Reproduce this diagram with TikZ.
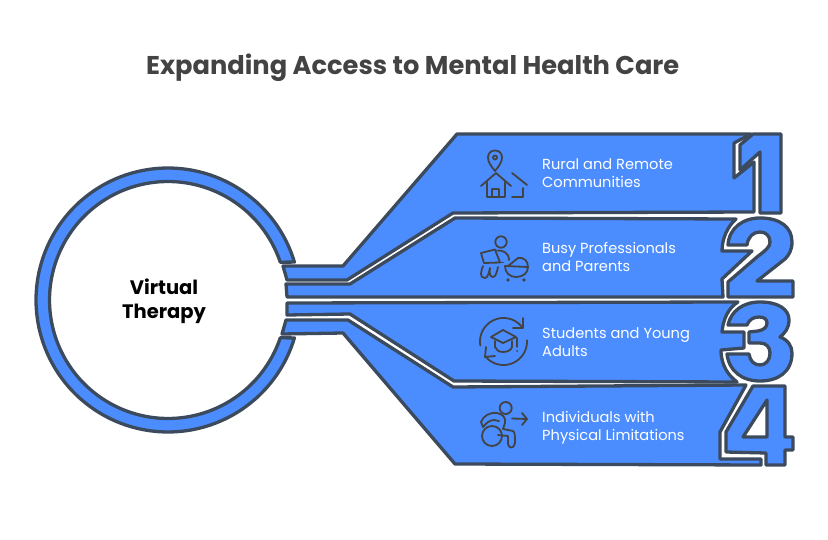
\documentclass[tikz,border=0pt]{standalone}
\usepackage{fontspec}
\setmainfont{Poppins}
\definecolor{bandblue}{HTML}{4B8DFF}
\definecolor{edgeslate}{HTML}{3C4A5E}
\definecolor{inkgrey}{HTML}{434343}
\tikzset{
  band/.style={draw=edgeslate,fill=bandblue,line width=3.3pt,line join=round},
  glyph/.style={band,even odd rule},
  icon/.style={draw=inkgrey,line width=1.8pt,line cap=round,line join=round,fill=none},
  icondot/.style={fill=inkgrey,draw=none},
  label/.style={anchor=base west,text=white,inner sep=0pt,font=\fontsize{14.6}{16}\selectfont},
  hub/.style={anchor=base,text=black,inner sep=0pt,font=\fontsize{19.5}{22}\selectfont\bfseries},
  heading/.style={anchor=base west,text=inkgrey,inner sep=0pt,font=\fontsize{25.7}{28}\selectfont\bfseries}
}
\begin{document}
\begin{tikzpicture}[x=1pt,y=-1pt]
\useasboundingbox (0,0) rectangle (828,540);
\fill[white] (0,0) rectangle (828,540);
\node[heading] (title) at (146,75) {Expanding Access to Mental Health Care};
% ring
\draw[band] plot[smooth,domain=-16.7:-343.3,samples=90] ({168+132*cos(\x)},{300+132*sin(\x)})
  -- plot[smooth,domain=-341.4:-18.6,samples=90] ({168+118.5*cos(\x)},{300+118.5*sin(\x)}) -- cycle;
\node[hub] (hubA) at (164,295) {Virtual};
\node[hub] (hubB) at (164,319) {Therapy};
% band 1 and its numeral
\draw[band] (283,266) -- (343,266) -- (457,134) -- (751,134) -- (734,143) -- (734,178) -- (754,162) -- (754,212) -- (453,213) -- (347,280) -- (287,280) -- cycle;
\draw[glyph] (740,145) -- (740,170) -- (760,152) -- (760,213) -- (781,213) -- (781,134) -- (753,134) -- cycle;
% band 2 and its numeral
\draw[band] (286,284) -- (350,284) -- (455,218) -- (736,219) .. controls (728,226) and (722,238) .. (722,251) -- (752,251) -- (722,279) -- (723,297) -- (287,297) -- cycle;
\draw[glyph] (728,245) .. controls (729,228) and (743,218) .. (760,218) .. controls (780,218) and (792,227) .. (792,242) .. controls (792,250) and (789,255) .. (785,259) -- (757,281) -- (793,281) -- (793,297) -- (728,297) -- (728,282) -- (757,257) .. controls (766,250) and (770,247) .. (770,242) .. controls (770,236) and (766,232) .. (760,232) .. controls (753,232) and (748,237) .. (747,245) -- cycle;
% band 3 and its numeral
\draw[band] (287,303) -- (738,302) .. controls (728,308) and (723,320) .. (722,332) -- (744,332) -- (744,348) -- (721,350) .. controls (721,366) and (729,376) .. (737,382) -- (454,381) -- (350,314) -- (287,315) -- cycle;
\draw[glyph] (728,325) .. controls (731,311) and (743,302) .. (760,302) .. controls (778,302) and (789,309) .. (789,320) .. controls (789,328) and (785,333) .. (780,337) .. controls (788,340) and (792,346) .. (792,353) .. controls (792,372) and (778,381) .. (760,381) .. controls (742,381) and (729,371) .. (727,354) -- (749,354) .. controls (750,361) and (754,365) .. (760,365) .. controls (766,365) and (770,360) .. (770,353) .. controls (770,347) and (766,343) .. (760,343) -- (749,343) -- (749,332) -- (758,331) .. controls (764,330) and (767,327) .. (767,323) .. controls (767,319) and (764,317) .. (759,317) .. controls (753,317) and (749,320) .. (747,325) -- cycle;
% band 4 and its numeral
\draw[band] (286,320) -- (348,320) -- (453,387) -- (746,385) -- (720,432) -- (720,459) -- (761,459) -- (761,465) -- (455,464) -- (343,333) -- (282,334) -- cycle;
\draw[glyph] (753,386) -- (785,386) -- (785,437) -- (793,437) -- (793,450) -- (785,450) -- (785,465) -- (766,465) -- (766,453) -- (726,452) -- (726,432) -- cycle
  (767,400) -- (767,437) -- (743,437) -- cycle;
% labels
\node[label] (l1a) at (542,170) {Rural and Remote};
\node[label] (l1b) at (542,188) {Communities};
\node[label] (l2a) at (542,254) {Busy Professionals};
\node[label] (l2b) at (542,272) {and Parents};
\node[label] (l3a) at (542,338) {Students and Young};
\node[label] (l3b) at (542,356) {Adults};
\node[label] (l4a) at (542,422) {Individuals with};
\node[label] (l4b) at (542,440) {Physical Limitations};
% icon 1
\draw[icon] (495,171) .. controls (491,166) and (488,162) .. (488,157.5) .. controls (488,153) and (491,150.5) .. (495,150.5) .. controls (499,150.5) and (502,153) .. (502,157.5) .. controls (502,162) and (499,166) .. (495,171) -- cycle;
\draw[icon] (495,157.5) circle[radius=2];
\draw[icon] (481,186) -- (496,173) -- (511,186);
\draw[icon] (487,182) -- (487,197) -- (505,197) -- (505,182);
\draw[icon] (492,197) -- (492,189) -- (499,189) -- (499,197);
\draw[icon] (512,173) -- (527,185);
\draw[icon] (523,188) -- (523,197) -- (512,197);
% icon 2
\draw[icon] (501,242) circle[radius=5.7];
\draw[icon] (497,250.5) .. controls (503,250) and (509,253) .. (509,260);
\draw[icon] (481,253) -- (495,249.5) -- (500,262.5) -- (484,263) -- cycle;
\draw[icon] (500,262.5) -- (503,262.5);
\draw[icon] (483,266) .. controls (481,271) and (479,278) .. (485,278) .. controls (488,278) and (489,272) .. (490,268) .. controls (489,273) and (490,277) .. (493,277) .. controls (496,277) and (497,271) .. (498,267);
\draw[icon] (505,266) -- (528,267) .. controls (528,261) and (524,257) .. (518,258) -- (508,266);
\draw[icon] (505,266) .. controls (505,273) and (510,277) .. (516,277) .. controls (523,277) and (528,273) .. (528,267);
\fill[icondot] (508,280) circle[radius=1.8] (524,280) circle[radius=1.8];
% icon 3
\draw[icon] plot[smooth,domain=-190:-38,samples=40] ({503.5+23.5*cos(\x)},{341.5+23.5*sin(\x)});
\draw[icon] (523,318) -- (523,328) -- (513,328);
\draw[icon] plot[smooth,domain=-3:140,samples=40] ({503.5+23.5*cos(\x)},{341.5+23.5*sin(\x)});
\draw[icon] (486,347) -- (485,357) -- (495,356);
\draw[icon] (491,337) -- (503,330) -- (516,337) -- (503,343) -- cycle;
\draw[icon] (495,341) -- (495,347) .. controls (496,350) and (499,352) .. (503,352) .. controls (508,352) and (511,350) .. (512,347) -- (512,341);
\draw[icon] (517,338) -- (517,347);
\fill[icondot] (517,351) circle[radius=1];
% icon 4
\draw[icon] (505.7,408) circle[radius=6];
\draw[icon] (492,436) circle[radius=10];
\draw[icon] (512,418.5) -- (527,419);
\draw[icon] (522,413) -- (527,419) -- (522,425);
\draw[icon] (483,427) -- (481,422) .. controls (483,416) and (490,412) .. (497,413) .. controls (503,414) and (506,418) .. (505,423) -- (503,429) -- (513,431) .. controls (515,432) and (515,436) .. (515,443) .. controls (514,449) and (509,449) .. (508,444) -- (508,436) -- (498,435);
\draw[icon] (483,427) .. controls (486,423) and (490,420) .. (494,420) -- (499,421);
\end{tikzpicture}
\end{document}
